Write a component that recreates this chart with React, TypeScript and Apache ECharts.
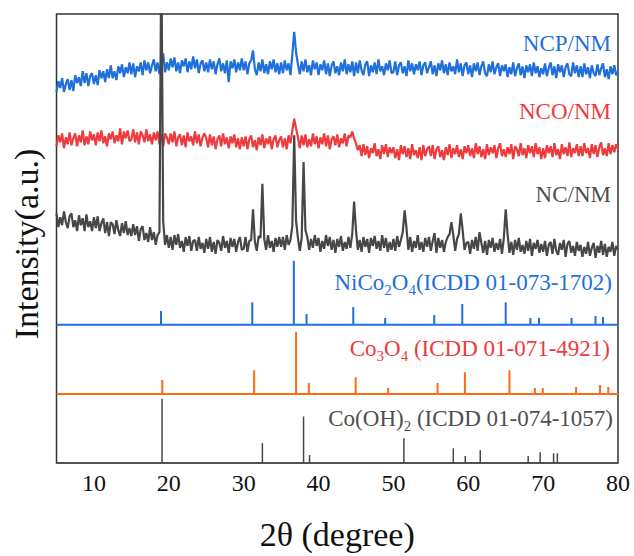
import React, { useEffect, useRef } from "react";
import * as echarts from "echarts";

// 2θ sampling grid of the measured patterns: 5° to 80° in 0.25° steps
const startAngle = 5;
const stepAngle = 0.25;

// NCP/NM pattern (blue), intensity (a.u., offset for stacking)
const ncpNM = [
  376, 387, 380, 390, 376, 384, 389, 378, 388, 377, 393, 385, 391, 382, 397, 385, 395, 382, 392, 395,
  384, 393, 383, 398, 390, 397, 386, 399, 390, 403, 390, 397, 388, 402, 395, 404, 391, 401, 395, 406,
  394, 405, 391, 402, 397, 406, 393, 408, 398, 406, 395, 403, 409, 397, 406, 394, 409, 415, 396, 406,
  398, 410, 401, 411, 397, 406, 395, 408, 402, 410, 396, 407, 399, 412, 400, 409, 395, 405, 408, 397,
  406, 396, 409, 399, 407, 394, 404, 410, 397, 405, 395, 408, 386, 407, 400, 409, 396, 406, 398, 410,
  398, 407, 394, 405, 408, 418, 399, 393, 406, 397, 409, 395, 404, 394, 407, 399, 409, 396, 405, 394,
  406, 395, 408, 398, 405, 393, 414, 437, 416, 404, 394, 407, 397, 409, 396, 403, 393, 408, 399, 406,
  393, 404, 398, 408, 394, 405, 392, 403, 407, 395, 402, 393, 406, 397, 409, 394, 404, 396, 407, 392,
  406, 395, 408, 398, 393, 404, 407, 392, 403, 396, 406, 394, 409, 397, 402, 393, 405, 398, 408, 395,
  396, 407, 393, 403, 406, 395, 402, 392, 408, 397, 405, 394, 404, 398, 407, 393, 403, 406, 395, 401,
  407, 394, 403, 392, 405, 398, 408, 395, 404, 393, 406, 397, 402, 394, 409, 396, 405, 392, 403, 406,
  394, 403, 391, 405, 397, 406, 393, 402, 407, 395, 392, 404, 396, 407, 394, 401, 405, 392, 403, 397,
  404, 391, 401, 394, 406, 392, 400, 405, 393, 402, 390, 403, 396, 404, 392, 406, 395, 402, 391, 400,
  394, 405, 392, 400, 406, 393, 402, 390, 404, 396, 403, 391, 401, 405, 394, 392, 406, 395, 403, 391,
  402, 391, 405, 394, 401, 390, 403, 395, 392, 404, 393, 400, 405, 391, 399, 389, 402, 394, 403, 393,
  397,
];

// NCO/NM pattern (red)
const ncoNM = [
  321, 332, 325, 334, 319, 330, 323, 335, 322, 329, 334, 321, 332, 325, 337, 322, 331, 323, 336, 327,
  333, 322, 335, 326, 337, 324, 331, 321, 334, 328, 336, 324, 332, 326, 339, 323, 336, 329, 337, 326,
  328, 338, 325, 335, 323, 336, 332, 325, 338, 326, 333, 323, 335, 327, 336, 323, 333, 321, 334, 330,
  323, 334, 325, 336, 321, 330, 333, 322, 332, 320, 335, 326, 331, 322, 336, 324, 333, 321, 330, 334,
  329, 320, 333, 322, 331, 318, 328, 332, 321, 334, 323, 330, 319, 331, 324, 333, 320, 329, 318, 330,
  321, 331, 318, 328, 332, 320, 327, 317, 330, 322, 333, 319, 329, 323, 331, 318, 328, 332, 320, 327,
  331, 320, 329, 318, 332, 324, 337, 349, 339, 330, 319, 332, 322, 333, 320, 328, 321, 334, 323, 331,
  319, 330, 323, 334, 321, 332, 318, 328, 331, 322, 333, 320, 329, 324, 334, 321, 332, 330, 336, 329,
  324, 317, 322, 311, 323, 312, 321, 309, 319, 314, 324, 311, 318, 308, 322, 313, 323, 310, 320, 314,
  320, 309, 318, 307, 322, 313, 321, 310, 319, 308, 323, 312, 317, 309, 320, 307, 322, 311, 318, 321,
  311, 322, 308, 318, 321, 310, 317, 307, 320, 312, 323, 309, 319, 313, 322, 310, 318, 308, 321, 314,
  322, 311, 319, 309, 324, 313, 321, 310, 318, 308, 323, 312, 320, 314, 322, 309, 319, 324, 311, 318,
  310, 320, 313, 323, 308, 321, 318, 311, 324, 312, 319, 309, 322, 314, 321, 310, 324, 313, 320, 308,
  319, 309, 322, 314, 321, 310, 324, 312, 318, 308, 323, 313, 320, 311, 325, 310, 319, 314, 323, 311,
  321, 311, 324, 314, 319, 309, 323, 313, 322, 310, 320, 325, 312, 319, 311, 324, 313, 322, 315, 323,
  318,
];

// NC/NM pattern (dark grey)
const ncNM = [
  253, 239, 249, 241, 255, 244, 238, 250, 253, 239, 246, 235, 251, 241, 248, 235, 252, 239, 245, 235,
  249, 238, 250, 235, 243, 248, 233, 244, 230, 244, 242, 232, 246, 236, 230, 243, 233, 245, 231, 238,
  230, 242, 231, 240, 225, 237, 240, 226, 233, 224, 239, 226, 234, 221, 231, 234, 520, 245, 221, 231,
  218, 229, 216, 231, 221, 232, 218, 225, 214, 229, 220, 230, 215, 225, 226, 215, 229, 217, 223, 213,
  227, 217, 229, 214, 224, 212, 226, 223, 215, 230, 218, 225, 213, 228, 219, 227, 214, 224, 229, 216,
  217, 229, 214, 225, 226, 257, 224, 215, 230, 228, 283, 227, 216, 231, 218, 225, 214, 228, 219, 229,
  219, 229, 216, 231, 221, 226, 240, 332, 245, 228, 215, 228, 305, 236, 229, 216, 227, 218, 231, 220,
  228, 214, 225, 217, 231, 220, 229, 216, 226, 213, 227, 219, 230, 215, 224, 217, 229, 218, 232, 265,
  236, 216, 226, 214, 229, 219, 227, 213, 228, 220, 230, 217, 225, 215, 231, 218, 228, 214, 224, 216,
  227, 215, 230, 219, 226, 234, 256, 238, 216, 229, 214, 225, 218, 231, 216, 224, 214, 228, 219, 229,
  215, 225, 233, 213, 228, 218, 226, 214, 224, 229, 232, 244, 231, 215, 227, 232, 253, 236, 216, 223,
  224, 212, 226, 217, 229, 215, 234, 223, 213, 225, 211, 226, 218, 228, 214, 223, 216, 227, 212, 228,
  257, 232, 213, 224, 211, 226, 216, 228, 214, 221, 212, 225, 215, 227, 210, 223, 217, 226, 213, 222,
  214, 225, 210, 221, 224, 212, 227, 215, 211, 223, 216, 226, 209, 222, 225, 213, 220, 210, 224, 215,
  221, 209, 219, 212, 224, 210, 218, 223, 208, 220, 213, 225, 211, 222, 209, 219, 214, 224, 210, 220,
  216,
];

// Reference stick patterns: positions (2θ) and relative heights
const nicoPos = [18.96, 31.15, 36.7, 38.4, 44.64, 48.9, 55.46, 59.2, 65.0, 68.3, 69.45, 73.8, 77.0, 78.0];
const nicoHeight = [14, 23, 65, 11, 18, 7, 10, 21, 23, 7, 7, 7, 9, 8];
const nicoBase = 140;

const co3o4Pos = [19.13, 31.4, 37.0, 38.7, 44.96, 49.3, 55.9, 59.55, 65.5, 68.9, 69.95, 74.4, 77.6, 78.7];
const co3o4Height = [14, 24, 63, 11, 17, 6, 11, 22, 24, 6, 6, 7, 9, 7];
const co3o4Base = 70;

const cohPos = [19.1, 32.5, 38.0, 38.8, 51.4, 58.0, 59.6, 61.6, 68.0, 69.6, 71.4, 71.9];
const cohHeight = [65, 20, 47, 8, 25, 15, 7, 13, 7, 11, 10, 10];
const cohBase = 0;

const xTicks = [10, 20, 30, 40, 50, 60, 70, 80];

const BLUE = "#1f6fdc";
const RED = "#ef3b3e";
const ORANGE = "#ff6a14";
const DARK = "#474747";
const GREY_TEXT = "#4f4f4f";
const FONT = "'Liberation Serif', 'Times New Roman', serif";

function pattern(values: number[]) {
  return values.map((v, i) => [startAngle + i * stepAngle, v]);
}

function sticks(pos: number[], h: number[], base: number) {
  const d: number[][] = [[5, base]];
  pos.forEach((p, i) => {
    d.push([p, base], [p, base + h[i]], [p, base]);
  });
  d.push([80, base]);
  return d;
}

export default function App() {
  const ref = useRef<HTMLDivElement>(null);
  useEffect(() => {
    if (!ref.current) return;
    const chart = echarts.init(ref.current, undefined, { renderer: "svg" });
    const lineBase = { type: "line", showSymbol: false, symbol: "none", clip: true, silent: true };
    const sub = (color: string) => ({
      a: { fontFamily: FONT, fontSize: 23, fill: color, color, lineHeight: 30 },
      s: { fontFamily: FONT, fontSize: 15, fill: color, color, lineHeight: 16, verticalAlign: "bottom" },
    });
    chart.setOption({
      animation: false,
      grid: {
        left: 56.5,
        right: 16,
        top: 14,
        bottom: 87,
        show: true,
        borderColor: "#333",
        borderWidth: 1.5,
      },
      xAxis: {
        type: "value",
        min: 5,
        max: 80,
        interval: 5,
        axisLine: { show: false },
        axisTick: { show: false },
        splitLine: { show: false },
        axisLabel: {
          margin: 8,
          fontSize: 24,
          fontFamily: FONT,
          color: "#111",
          formatter: (v: number) => (xTicks.includes(v) ? String(v) : ""),
        },
        name: "2θ (degree)",
        nameLocation: "middle",
        nameGap: 54,
        nameTextStyle: { fontSize: 34, fontFamily: FONT, color: "#111" },
      },
      yAxis: {
        type: "value",
        min: 0,
        max: 455,
        axisLine: { show: false },
        axisTick: { show: false },
        axisLabel: { show: false },
        splitLine: { show: false },
      },
      graphic: [
        {
          type: "text",
          x: 26,
          y: 244,
          rotation: Math.PI / 2,
          style: {
            text: "Intensity(a.u.)",
            fontSize: 34,
            fontFamily: FONT,
            fill: "#111",
            align: "center",
            verticalAlign: "middle",
          },
        },
        {
          type: "text",
          x: 611,
          y: 43,
          style: { text: "NCP/NM", fontSize: 23, fontFamily: FONT, fill: BLUE, align: "right", verticalAlign: "middle" },
        },
        {
          type: "text",
          x: 611,
          y: 111,
          style: { text: "NCO/NM", fontSize: 23, fontFamily: FONT, fill: RED, align: "right", verticalAlign: "middle" },
        },
        {
          type: "text",
          x: 611,
          y: 194,
          style: { text: "NC/NM", fontSize: 23, fontFamily: FONT, fill: GREY_TEXT, align: "right", verticalAlign: "middle" },
        },
        {
          type: "text",
          x: 612,
          y: 282,
          style: {
            text: "{a|NiCo}{s|2}{a|O}{s|4}{a|(ICDD 01-073-1702)}",
            rich: sub(BLUE),
            fill: BLUE,
            align: "right",
            verticalAlign: "middle",
          },
        },
        {
          type: "text",
          x: 610,
          y: 348,
          style: {
            text: "{a|Co}{s|3}{a|O}{s|4}{a| (ICDD 01-071-4921)}",
            rich: sub(RED),
            fill: RED,
            align: "right",
            verticalAlign: "middle",
          },
        },
        {
          type: "text",
          x: 613,
          y: 418,
          style: {
            text: "{a|Co(OH)}{s|2}{a| (ICDD 01-074-1057)}",
            rich: sub(GREY_TEXT),
            fill: GREY_TEXT,
            align: "right",
            verticalAlign: "middle",
          },
        },
      ],
      series: [
        { ...lineBase, name: "NCP/NM", data: pattern(ncpNM), lineStyle: { color: BLUE, width: 2.2 }, z: 2 },
        { ...lineBase, name: "NCO/NM", data: pattern(ncoNM), lineStyle: { color: RED, width: 2.2 }, z: 2 },
        { ...lineBase, name: "NiCo2O4", data: sticks(nicoPos, nicoHeight, nicoBase), lineStyle: { color: BLUE, width: 2 }, z: 2 },
        { ...lineBase, name: "Co3O4", data: sticks(co3o4Pos, co3o4Height, co3o4Base), lineStyle: { color: ORANGE, width: 2 }, z: 2 },
        { ...lineBase, name: "Co(OH)2", data: sticks(cohPos, cohHeight, cohBase), lineStyle: { color: DARK, width: 1.5 }, z: 2 },
        { ...lineBase, name: "NC/NM", data: pattern(ncNM), lineStyle: { color: DARK, width: 2.2 }, z: 3 },
      ],
    });
    return () => chart.dispose();
  }, []);
  return <div ref={ref} style={{ width: 634, height: 556, position: "absolute", left: 0, top: 0 }} />;
}
